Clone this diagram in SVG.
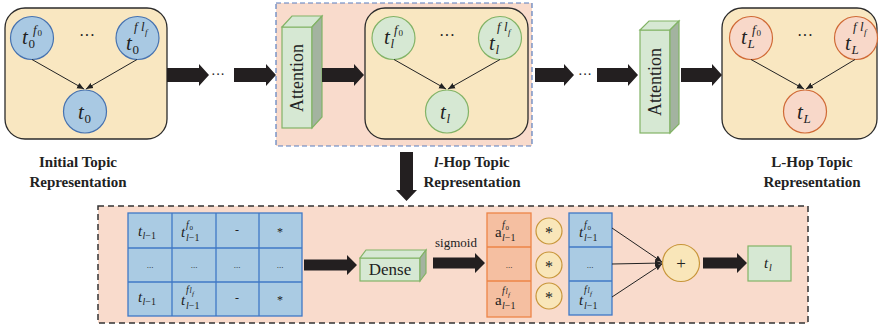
<svg xmlns="http://www.w3.org/2000/svg" width="879" height="328" viewBox="0 0 879 328" font-family="'Liberation Serif', 'Times New Roman', serif">
<style>
.ybox{fill:#f9e7c1;stroke:#2b2b2b;stroke-width:1.3}
.cb{fill:#a9c9e3;stroke:#4672b0;stroke-width:1.2}
.cg{fill:#d6e8d3;stroke:#82b366;stroke-width:1.2}
.cp{fill:#f8d8c9;stroke:#d06a36;stroke-width:1.2}
.m{font-style:italic;fill:#222}
.u{fill:#222}
.t{font-size:21px}
.s{font-size:13px}
.ss{font-size:9px}
.lab{font-weight:bold;font-size:15px;fill:#222;text-anchor:middle}
.rm{fill:#222}
.big{fill:#231f20}
.thin{stroke:#222;stroke-width:1;fill:none;marker-end:url(#ah)}
.gf{fill:#d6e8d3;stroke:#82b366;stroke-width:1.2}
.gs{fill:#a3b3a0;stroke:#82b366;stroke-width:1.2}
.tb{fill:#aacbe3;stroke:#3f78c6;stroke-width:1.3}
.ob{fill:#f5bfa1;stroke:#ed8447;stroke-width:1.3}
.yc{fill:#f9e6b9;stroke:#c8963a;stroke-width:1.2}
.tm{font-size:15px}
.tsub{font-size:10px}
</style>
<defs>
<marker id="ah" markerWidth="8" markerHeight="8" refX="7" refY="4" orient="auto" markerUnits="userSpaceOnUse">
<path d="M0,1 L7,4 L0,7 Z" fill="#222"/>
</marker>
</defs>

<!-- backgrounds -->
<rect id="hop-l-region" x="276" y="3" width="256" height="143" fill="#f9dbcc" stroke="#5a7fbf" stroke-width="1.2" stroke-dasharray="5 3"/>
<rect id="detail-region" x="98" y="206" width="710" height="117" fill="#f9dbcc" stroke="#333" stroke-width="1.5" stroke-dasharray="6 4"/>

<!-- Initial topic representation -->
<g id="initial">
<rect class="ybox" x="5" y="8" width="162" height="131" rx="20"/>
<circle class="cb" cx="32" cy="38" r="21.5"/>
<circle class="cb" cx="137.5" cy="38" r="21.5"/>
<circle class="cb" cx="85" cy="111.5" r="21.5"/>
<text class="rm" x="87" y="41" font-size="16" text-anchor="middle">···</text>
<text class="m t" x="22" y="44">t</text><text class="u s" x="28.5" y="48">0</text><text class="m s" x="33" y="34">f</text><text class="u ss" x="37.5" y="36">0</text>
<text class="m t" x="126" y="50">t</text><text class="u s" x="132.5" y="54">0</text><text class="m s" x="134" y="31">f</text><text class="m s" x="141" y="31">l</text><text class="m ss" x="145" y="35">f</text>
<text class="m t" x="78" y="119">t</text><text class="u s" x="84.5" y="123">0</text>
<text class="lab" x="78" y="167">Initial Topic</text>
<text class="lab" x="78" y="187">Representation</text>
</g>

<!-- l-hop -->
<g id="attention-l">
<rect class="gf" x="282" y="27" width="30" height="101"/>
<polygon class="gf" points="282,27 292,16 322,16 312,27"/>
<polygon class="gs" points="312,27 322,16 322,117 312,128"/>
<text class="rm" font-size="18" text-anchor="middle" transform="translate(303,78) rotate(-90)">Attention</text>
</g>
<g id="hop-l">
<rect class="ybox" x="365" y="8" width="163" height="131" rx="20"/>
<circle class="cg" cx="393.5" cy="38" r="21.5"/>
<circle class="cg" cx="500" cy="38" r="21.5"/>
<circle class="cg" cx="447" cy="111.5" r="21.5"/>
<text class="rm" x="447" y="41" font-size="16" text-anchor="middle">···</text>
<text class="m t" x="384" y="44">t</text><text class="m s" x="390.5" y="48">l</text><text class="m s" x="394" y="34">f</text><text class="u ss" x="398.5" y="36">0</text>
<text class="m t" x="489" y="50">t</text><text class="m s" x="495.5" y="54">l</text><text class="m s" x="497" y="31">f</text><text class="m s" x="504" y="31">l</text><text class="m ss" x="508" y="35">f</text>
<text class="m t" x="440" y="119">t</text><text class="m s" x="446.5" y="123">l</text>
<text class="lab" x="472" y="167"><tspan font-style="italic">l</tspan>-Hop Topic</text>
<text class="lab" x="472" y="187">Representation</text>
</g>

<!-- L-hop -->
<g id="attention-L">
<rect class="gf" x="640" y="30" width="30" height="103"/>
<polygon class="gf" points="640,30 649,21 679,21 670,30"/>
<polygon class="gs" points="670,30 679,21 679,124 670,133"/>
<text class="rm" font-size="18" text-anchor="middle" transform="translate(661,82) rotate(-90)">Attention</text>
</g>
<g id="hop-L">
<rect class="ybox" x="722" y="8" width="155" height="131" rx="20"/>
<circle class="cp" cx="751" cy="38" r="21.5"/>
<circle class="cp" cx="856" cy="38" r="21.5"/>
<circle class="cp" cx="805" cy="111.5" r="21.5"/>
<text class="rm" x="805" y="41" font-size="16" text-anchor="middle">···</text>
<text class="m t" x="741" y="44">t</text><text class="m s" x="747.5" y="48">L</text><text class="m s" x="752" y="34">f</text><text class="u ss" x="756.5" y="36">0</text>
<text class="m t" x="845" y="50">t</text><text class="m s" x="851.5" y="54">L</text><text class="m s" x="853" y="31">f</text><text class="m s" x="860" y="31">l</text><text class="m ss" x="864" y="35">f</text>
<text class="m t" x="797" y="119">t</text><text class="m s" x="803.5" y="123">L</text>
<text class="lab" x="812" y="167">L-Hop Topic</text>
<text class="lab" x="812" y="187">Representation</text>
</g>

<!-- dots between arrows -->
<text class="rm" x="218" y="79" font-size="14" text-anchor="middle">···</text>
<text class="rm" x="585" y="79" font-size="14" text-anchor="middle">···</text>

<!-- bottom detail -->
<g id="feature-table">
<rect class="tb" x="128" y="213" width="174" height="103"/>
<line x1="172" y1="213" x2="172" y2="316" stroke="#3f78c6" stroke-width="1.3"/>
<line x1="216" y1="213" x2="216" y2="316" stroke="#3f78c6" stroke-width="1.3"/>
<line x1="259" y1="213" x2="259" y2="316" stroke="#3f78c6" stroke-width="1.3"/>
<line x1="128" y1="248" x2="302" y2="248" stroke="#3f78c6" stroke-width="1.3"/>
<line x1="128" y1="282" x2="302" y2="282" stroke="#3f78c6" stroke-width="1.3"/>
<text class="m tm" x="138" y="236">t</text><text class="m tsub" x="142.5" y="239">l<tspan font-style="normal">−1</tspan></text>
<text class="m tm" x="181" y="237">t</text><text class="m tsub" x="186" y="228">f</text><text class="u" font-size="7" x="189.5" y="230">0</text><text class="m tsub" x="186" y="241">l<tspan font-style="normal">−1</tspan></text>
<text class="rm" x="237" y="234" font-size="12" text-anchor="middle">-</text>
<text class="rm" x="280" y="236" font-size="12" text-anchor="middle">*</text>
<text class="rm" x="150" y="268" font-size="9" text-anchor="middle">...</text>
<text class="rm" x="194" y="268" font-size="9" text-anchor="middle">...</text>
<text class="rm" x="237" y="268" font-size="9" text-anchor="middle">...</text>
<text class="rm" x="280" y="268" font-size="9" text-anchor="middle">...</text>
<text class="m tm" x="138" y="302">t</text><text class="m tsub" x="142.5" y="305">l<tspan font-style="normal">−1</tspan></text>
<text class="m tm" x="181" y="305">t</text><text class="m tsub" x="186" y="293">f</text><text class="m" font-size="8" x="189.5" y="293">l</text><text class="m" font-size="7" x="192" y="296">f</text><text class="m tsub" x="186" y="309">l<tspan font-style="normal">−1</tspan></text>
<text class="rm" x="237" y="302" font-size="12" text-anchor="middle">-</text>
<text class="rm" x="280" y="304" font-size="12" text-anchor="middle">*</text>
</g>

<g id="dense">
<rect class="gf" x="360" y="258" width="60" height="23"/>
<polygon class="gf" points="360,258 366,250 426,250 420,258"/>
<polygon class="gs" points="420,258 426,250 426,273 420,281"/>
<text class="rm" x="390" y="275" font-size="17" text-anchor="middle">Dense</text>
</g>
<text class="rm" x="456" y="247" font-size="13" text-anchor="middle">sigmoid</text>

<g id="attention-weights">
<rect class="ob" x="487" y="213" width="44" height="104"/>
<line x1="487" y1="247" x2="531" y2="247" stroke="#ed8447" stroke-width="1.3"/>
<line x1="487" y1="281" x2="531" y2="281" stroke="#ed8447" stroke-width="1.3"/>
<text class="rm" x="495" y="237" font-size="15">a</text><text class="m tsub" x="502" y="228">f</text><text class="u" font-size="7" x="505.5" y="230">0</text><text class="m tsub" x="502" y="241">l<tspan font-style="normal">−1</tspan></text>
<text class="rm" x="509" y="268" font-size="9" text-anchor="middle">...</text>
<text class="rm" x="495" y="305" font-size="15">a</text><text class="m tsub" x="502" y="294">f</text><text class="m" font-size="8" x="505.5" y="294">l</text><text class="m" font-size="7" x="508" y="297">f</text><text class="m tsub" x="502" y="309">l<tspan font-style="normal">−1</tspan></text>
</g>

<g id="multiply">
<circle class="yc" cx="549" cy="231" r="13"/>
<circle class="yc" cx="549" cy="265" r="13"/>
<circle class="yc" cx="549" cy="296" r="13"/>
<text class="rm" x="549" y="238" font-size="16" text-anchor="middle">*</text>
<text class="rm" x="549" y="272" font-size="16" text-anchor="middle">*</text>
<text class="rm" x="549" y="303" font-size="16" text-anchor="middle">*</text>
</g>

<g id="features">
<rect class="tb" x="569" y="213" width="43" height="102"/>
<line x1="569" y1="247" x2="612" y2="247" stroke="#3f78c6" stroke-width="1.3"/>
<line x1="569" y1="281" x2="612" y2="281" stroke="#3f78c6" stroke-width="1.3"/>
<text class="m tm" x="579" y="237">t</text><text class="m tsub" x="584" y="228">f</text><text class="u" font-size="7" x="587.5" y="230">0</text><text class="m tsub" x="584" y="241">l<tspan font-style="normal">−1</tspan></text>
<text class="rm" x="590" y="268" font-size="9" text-anchor="middle">...</text>
<text class="m tm" x="579" y="305">t</text><text class="m tsub" x="584" y="293">f</text><text class="m" font-size="8" x="587.5" y="293">l</text><text class="m" font-size="7" x="590" y="296">f</text><text class="m tsub" x="584" y="309">l<tspan font-style="normal">−1</tspan></text>
</g>

<g id="sum">
<circle class="yc" cx="681" cy="263" r="18.5"/>
<text class="rm" x="681" y="269" font-size="17" text-anchor="middle">+</text>
</g>

<g id="output">
<rect class="gf" x="748" y="246" width="43" height="35"/>
<text class="m tm" x="764" y="268">t</text><text class="m tsub" x="769" y="271">l</text>
</g>

<!-- connectors -->
<g id="connectors">
<line class="thin" x1="32" y1="59.5" x2="84" y2="89"/>
<line class="thin" x1="137" y1="59.5" x2="86" y2="89"/>
<line class="thin" x1="394" y1="59.5" x2="446" y2="89"/>
<line class="thin" x1="500" y1="59.5" x2="448" y2="89"/>
<line class="thin" x1="751" y1="59.5" x2="804" y2="89"/>
<line class="thin" x1="855" y1="59.5" x2="806" y2="89"/>
<line class="thin" x1="612" y1="228" x2="662" y2="262"/>
<line class="thin" x1="612" y1="264" x2="662" y2="263"/>
<line class="thin" x1="612" y1="297" x2="662" y2="264"/>
<polygon class="big" points="167,68 199,68 199,64 209,75 199,86 199,82 167,82"/>
<polygon class="big" points="234,68 266,68 266,64 276,75 266,86 266,82 234,82"/>
<polygon class="big" points="322,68 354,68 354,64 364,75 354,86 354,82 322,82"/>
<polygon class="big" points="535,68 564,68 564,64 574,75 564,86 564,82 535,82"/>
<polygon class="big" points="597,68 628,68 628,64 638,75 628,86 628,82 597,82"/>
<polygon class="big" points="681,68 712,68 712,64 722,75 712,86 712,82 681,82"/>
<polygon class="big" points="400,152 413,152 413,190 417,190 406.5,201 396,190 400,190"/>
<polygon class="big" points="304,259.5 347,259.5 347,255 357,265 347,275 347,270.5 304,270.5"/>
<polygon class="big" points="433,257.5 475,257.5 475,253 485,263 475,273 475,268.5 433,268.5"/>
<polygon class="big" points="703,257.5 737,257.5 737,253 747,263 737,273 737,268.5 703,268.5"/>
</g>
</svg>
